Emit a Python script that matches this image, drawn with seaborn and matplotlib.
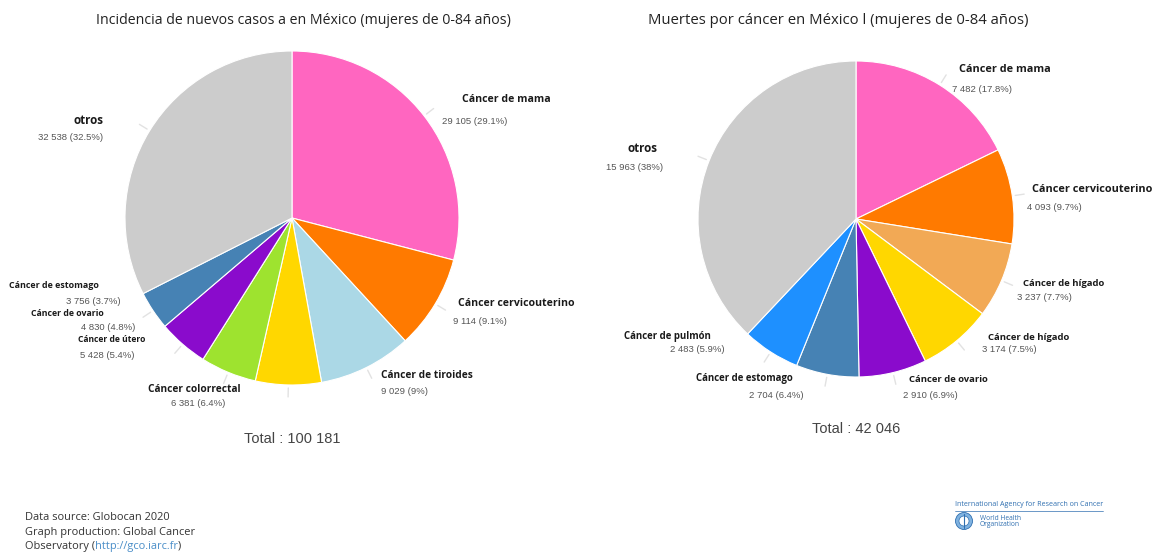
import matplotlib
matplotlib.use("Agg")
import numpy as np
import matplotlib.pyplot as plt
import seaborn as sns
from matplotlib.patches import Circle

# Globocan 2020 - Mexico, women aged 0-84
inc_labels = ["Cáncer de mama", "Cáncer cervicouterino", "Cáncer de tiroides",
              "Cáncer colorrectal", "Cáncer de útero", "Cáncer de ovario",
              "Cáncer de estomago", "otros"]
inc_values = [29105, 9114, 9029, 6381, 5428, 4830, 3756, 32538]

mort_labels = ["Cáncer de mama", "Cáncer cervicouterino", "Cáncer de hígado",
               "Cáncer de hígado", "Cáncer de ovario", "Cáncer de estomago",
               "Cáncer de pulmón", "otros"]
mort_values = [7482, 4093, 3237, 3174, 2910, 2704, 2483, 15963]

inc_title = "Incidencia de nuevos casos a en México (mujeres de 0-84 años)"
mort_title = "Muertes por cáncer en México l (mujeres de 0-84 años)"

inc_colors = sns.color_palette(["#ff66c0", "#ff7a00", "#abd8e6", "#ffd700",
                                "#9ee32f", "#8a0bcc", "#4682b4", "#cccccc"])
mort_colors = sns.color_palette(["#ff66c0", "#ff7a00", "#f2a955", "#ffd700",
                                 "#8a0bcc", "#4682b4", "#1e90ff", "#cccccc"])

# layout (figure pixels, y measured from top): name anchor, alignment,
# value anchor, name font size
inc_layout = [
    ((462, 100), "left", (442, 121), 7.6),
    ((458, 303), "left", (453, 322), 7.6),
    ((381, 376), "left", (381, 391), 7.3),
    ((241, 390), "right", (225, 404), 7.3),
    ((145, 340), "right", (135, 355), 6.1),
    ((104, 313), "right", (135, 328), 6.3),
    ((99, 286), "right", (121, 301), 6.4),
    ((103, 120), "right", (103, 138), 8.4),
]
mort_layout = [
    ((959, 69), "left", (952, 89), 7.85),
    ((1032, 190), "left", (1027, 207), 7.85),
    ((1023, 284), "left", (1017, 298), 6.8),
    ((988, 337), "left", (982, 349), 6.8),
    ((909, 379), "left", (903, 395), 6.8),
    ((793, 379), "right", (804, 395), 6.9),
    ((711, 337), "right", (725, 350), 6.9),
    ((658, 149), "right", (663, 168), 8.4),
]

W, H = 1159, 554
sns.set_theme(style="white")
plt.rcParams["font.family"] = ["Open Sans", "DejaVu Sans"]

fig = plt.figure(figsize=(W / 100, H / 100), dpi=100)
ax = fig.add_axes([0, 0, 1, 1])


def fmt_num(v):
    return f"{v:,}".replace(",", " ")


def fmt_pct(v, total):
    s = f"{round(100 * v / total, 1):.1f}"
    if s.endswith(".0"):
        s = s[:-2]
    return s + "%"


def draw_pie(values, labels, colors, layout, cx, cy, r,
             title, title_x, title_fs, total_y):
    total = sum(values)
    wedges, _ = ax.pie(values, colors=colors, startangle=90, counterclock=False,
                       center=(cx, H - cy), radius=r,
                       wedgeprops=dict(edgecolor="white", linewidth=0.8))
    for w, lab, v, (npos, ha, vpos, fs) in zip(wedges, labels, values, layout):
        ang = np.deg2rad((w.theta1 + w.theta2) / 2)
        x0 = cx + (r + 3) * np.cos(ang)
        y0 = H - cy + (r + 3) * np.sin(ang)
        x1 = cx + (r + 12) * np.cos(ang)
        y1 = H - cy + (r + 12) * np.sin(ang)
        ax.plot([x0, x1], [y0, y1], color="#e2e2e2", lw=1, solid_capstyle="round")
        ax.text(npos[0], H - npos[1], lab, ha=ha, va="center", fontsize=fs,
                fontweight="bold", color="#1a1a1a")
        ax.text(vpos[0], H - vpos[1], f"{fmt_num(v)} ({fmt_pct(v, total)})",
                ha=ha, va="center", fontsize=6.8, color="#555555",
                family=["Liberation Sans", "DejaVu Sans"])
    ax.text(title_x, H - 21, title, ha="center", va="center", fontsize=title_fs,
            color="#222222")
    ax.text(cx, H - total_y, f"Total : {fmt_num(total)}", ha="center", va="center",
            fontsize=10.5, color="#444444", family=["Liberation Sans", "DejaVu Sans"])


draw_pie(inc_values, inc_labels, inc_colors, inc_layout, 292, 218, 167,
         inc_title, 303, 10.2, 439)
draw_pie(mort_values, mort_labels, mort_colors, mort_layout, 856, 219, 158,
         mort_title, 838, 10.7, 429)

# footer
foot = dict(va="center", fontsize=7.9, color="#333333")
ax.text(25, H - 518, "Data source: Globocan 2020", ha="left", **foot)
ax.text(25, H - 532, "Graph production: Global Cancer", ha="left", **foot)
t1 = ax.text(25, H - 546, "Observatory (", ha="left", **foot)
t2 = ax.annotate("http://gco.iarc.fr", xycoords=t1, xy=(1, 0.5), ha="left",
                 va="center", fontsize=7.9, color="#4a8ec8")
ax.annotate(")", xycoords=t2, xy=(1, 0.5), ha="left", **foot)

# agency mark
blue = "#2f6fb0"
ax.text(955, H - 505, "International Agency for Research on Cancer", ha="left",
        va="center", fontsize=5.1, color=blue)
ax.plot([955, 1103], [H - 511, H - 511], color=blue, lw=0.5)
ax.add_patch(Circle((964, H - 521), 8.5, facecolor="#7fb2e0", edgecolor=blue, lw=0.6))
ax.add_patch(Circle((964, H - 521), 5, facecolor="white", edgecolor=blue, lw=0.5))
ax.plot([964, 964], [H - 528, H - 514], color=blue, lw=0.8)
ax.text(980, H - 518, "World Health", ha="left", va="center", fontsize=4.8, color=blue)
ax.text(980, H - 525, "Organization", ha="left", va="center", fontsize=4.8, color=blue)

ax.set_xlim(0, W)
ax.set_ylim(0, H)
ax.set_aspect("auto")
ax.axis("off")
fig.savefig("out.png", dpi=100, facecolor="white")
